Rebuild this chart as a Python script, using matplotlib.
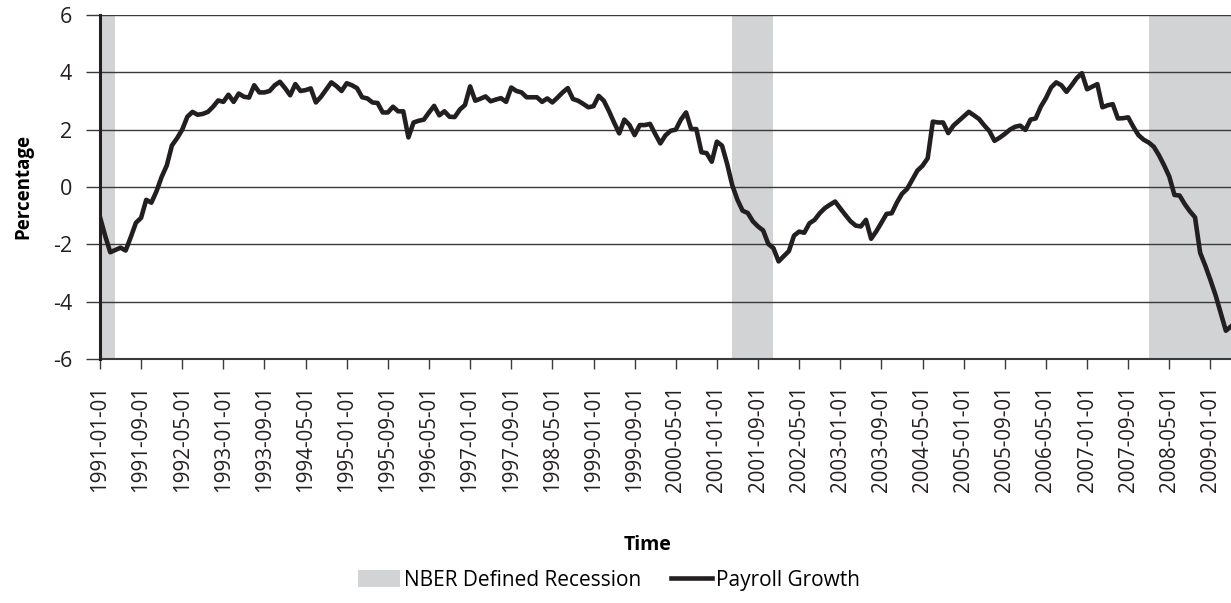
import numpy as np
import matplotlib.pyplot as plt
import pandas as pd
from matplotlib.patches import Patch
from matplotlib.lines import Line2D

# monthly payroll growth, 1991-01 .. 2009-05
start_month = '1991-01'
payroll = [
    -1.05, -1.70, -2.28, -2.20, -2.12, -2.22, -1.75, -1.25, -1.08, -0.45,
    -0.55, -0.15, 0.35, 0.75, 1.45, 1.70, 2.00, 2.45, 2.62, 2.52,
    2.55, 2.62, 2.80, 3.02, 2.97, 3.22, 2.97, 3.26, 3.15, 3.12,
    3.55, 3.30, 3.30, 3.35, 3.55, 3.67, 3.45, 3.20, 3.59, 3.35,
    3.38, 3.44, 2.95, 3.15, 3.40, 3.65, 3.52, 3.35, 3.62, 3.55,
    3.45, 3.13, 3.09, 2.95, 2.93, 2.60, 2.60, 2.80, 2.64, 2.64,
    1.73, 2.25, 2.31, 2.35, 2.60, 2.83, 2.50, 2.64, 2.45, 2.44,
    2.70, 2.86, 3.51, 3.01, 3.08, 3.16, 2.99, 3.05, 3.10, 2.97,
    3.47, 3.35, 3.30, 3.13, 3.13, 3.13, 2.97, 3.09, 2.95, 3.12,
    3.30, 3.45, 3.07, 3.01, 2.90, 2.78, 2.82, 3.18, 3.01, 2.65,
    2.25, 1.87, 2.35, 2.16, 1.81, 2.16, 2.16, 2.20, 1.85, 1.52,
    1.80, 1.96, 2.00, 2.35, 2.60, 2.02, 2.02, 1.21, 1.18, 0.88,
    1.58, 1.44, 0.80, 0.05, -0.45, -0.83, -0.91, -1.20, -1.38, -1.52,
    -1.99, -2.14, -2.60, -2.42, -2.24, -1.70, -1.56, -1.60, -1.27, -1.15,
    -0.92, -0.74, -0.62, -0.51, -0.75, -0.98, -1.20, -1.35, -1.38, -1.15,
    -1.81, -1.55, -1.25, -0.94, -0.92, -0.55, -0.24, -0.07, 0.25, 0.57,
    0.74, 1.00, 2.28, 2.25, 2.25, 1.88, 2.14, 2.30, 2.46, 2.62,
    2.50, 2.37, 2.15, 1.95, 1.61, 1.72, 1.85, 2.00, 2.10, 2.14,
    1.99, 2.35, 2.39, 2.80, 3.10, 3.47, 3.65, 3.55, 3.32, 3.55,
    3.80, 3.97, 3.41, 3.50, 3.59, 2.78, 2.85, 2.89, 2.39, 2.40,
    2.43, 2.10, 1.81, 1.65, 1.55, 1.40, 1.10, 0.75, 0.36, -0.28,
    -0.30, -0.60, -0.85, -1.06, -2.30, -2.75, -3.25, -3.78, -4.40, -5.02,
    -4.87,
]

# NBER recessions (shaded)
recess_start = ['1991-01', '2001-04', '2008-01']
recess_end = ['1991-04', '2001-12', '2009-05']

dates = pd.period_range(start_month, periods=len(payroll), freq='M')
x = np.arange(len(payroll))
p0 = pd.Period(start_month, freq='M')

plt.rcParams['font.family'] = ['Open Sans', 'DejaVu Sans']
plt.rcParams['axes.unicode_minus'] = False

fig = plt.figure(figsize=(12.31, 6.03), dpi=100)
ax = fig.add_axes([0.0812, 0.405, 0.9188, 0.570])

for s, e in zip(recess_start, recess_end):
    a = (pd.Period(s, freq='M') - p0).n
    b = (pd.Period(e, freq='M') - p0).n
    ax.axvspan(a, b, color='#d1d3d4', lw=0, zorder=1)

ax.plot(x, payroll, color='#231f20', lw=3.3, zorder=3)

ax.set_xlim(0, len(payroll) - 1)
ax.set_ylim(-6, 6)
ax.set_yticks(np.arange(-6, 7, 2))
ax.yaxis.grid(True, color='#3a3a3a', lw=1.0, zorder=2)
ax.set_axisbelow(False)

tick_pos = x[::8]
ax.set_xticks(tick_pos)
ax.set_xticklabels([dates[i].strftime('%Y-%m-01') for i in tick_pos], rotation=90)

ax.tick_params(axis='x', direction='out', length=7, width=1.0, color='#3a3a3a',
               labelsize=14.8, pad=12, labelcolor='#231f20')
ax.tick_params(axis='y', direction='out', length=10, width=1.0, color='#3a3a3a',
               labelsize=15.5, pad=10, labelcolor='#231f20')

for side in ['top', 'right']:
    ax.spines[side].set_visible(False)
ax.spines['left'].set_linewidth(2.2)
ax.spines['left'].set_color('#231f20')
ax.spines['left'].set_zorder(4)
ax.spines['bottom'].set_linewidth(1.5)
ax.spines['bottom'].set_color('#3a3a3a')

ax.set_ylabel('Percentage', fontsize=13.5, fontweight='bold', labelpad=14)
fig.text(0.526, 0.097, 'Time', ha='center', va='center', fontsize=14, fontweight='bold')

handles = [Patch(facecolor='#d1d3d4', edgecolor='none'),
           Line2D([0], [0], color='#231f20', lw=3.3)]
fig.legend(handles, ['NBER Defined Recession', 'Payroll Growth'],
           loc='center', bbox_to_anchor=(0.495, 0.038), ncol=2, frameon=False,
           fontsize=15, handlelength=2.0, handleheight=0.9, handletextpad=0.2,
           columnspacing=1.4)

plt.savefig('out.png', dpi=100)
